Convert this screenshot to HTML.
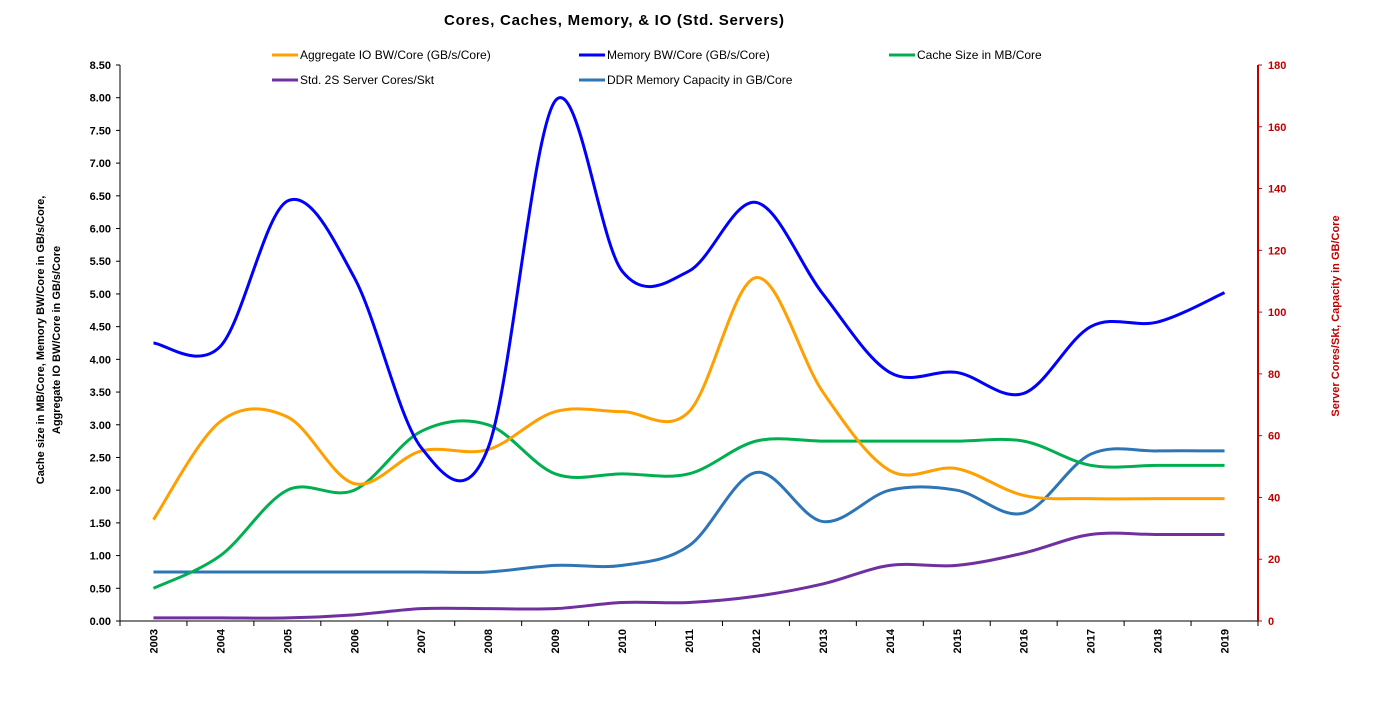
<!DOCTYPE html>
<html><head><meta charset="utf-8"><style>
body{margin:0;background:#fff;font-family:"Liberation Sans",Arial,sans-serif}
svg text{font-family:"Liberation Sans",Arial,sans-serif}
</style></head><body>
<svg id="chart" width="1378" height="703" xmlns="http://www.w3.org/2000/svg">
<text x="614" y="25" text-anchor="middle" font-size="15" font-weight="bold" textLength="340">Cores, Caches, Memory, &amp; IO   (Std. Servers)</text>
<g id="axes"></g>
<g id="series"></g>
<g id="legend"></g>
<text transform="translate(44,340) rotate(-90)" text-anchor="middle" font-size="11" font-weight="bold">Cache size in MB/Core, Memory BW/Core in GB/s/Core,</text>
<text transform="translate(60,340) rotate(-90)" text-anchor="middle" font-size="11" font-weight="bold">Aggregate IO BW/Core in GB/s/Core</text>
<text transform="translate(1339,316) rotate(-90)" text-anchor="middle" font-size="11" font-weight="bold" fill="#c00000">Server Cores/Skt,   Capacity in GB/Core</text>
</svg>
<script>
const years=[2003,2004,2005,2006,2007,2008,2009,2010,2011,2012,2013,2014,2015,2016,2017,2018,2019];
const ioBW=[1.55,3.05,3.12,2.1,2.6,2.62,3.2,3.2,3.2,5.25,3.5,2.3,2.33,1.92,1.87,1.87,1.87];
const memBW=[4.25,4.2,6.42,5.25,2.65,2.65,7.95,5.35,5.35,6.4,5.0,3.8,3.8,3.48,4.5,4.57,5.02];
const cacheMB=[0.5,1.0,2.0,2.0,2.9,3.0,2.25,2.25,2.25,2.75,2.75,2.75,2.75,2.75,2.38,2.38,2.38];
const coresSkt=[1,1,1,2,4,4,4,6,6,8,12,18,18,22,28,28,28];
const ddrGB=[0.75,0.75,0.75,0.75,0.75,0.75,0.85,0.85,1.15,2.27,1.52,2.0,2.0,1.65,2.55,2.6,2.6];
const leftTicks=[0,0.5,1,1.5,2,2.5,3,3.5,4,4.5,5,5.5,6,6.5,7,7.5,8,8.5];
const rightTicks=[0,20,40,60,80,100,120,140,160,180];
const NS="http://www.w3.org/2000/svg";
const X0=120,X1=1258,Y0=621,Y1=65;
const step=(X1-X0)/years.length;
const xs=i=>X0+step*(i+0.5);
const yl=v=>Y0-(v/8.5)*(Y0-Y1);
const yr=v=>Y0-(v/180)*(Y0-Y1);
function mk(tag,attrs,parent){const e=document.createElementNS(NS,tag);for(const k in attrs)e.setAttribute(k,attrs[k]);parent.appendChild(e);return e;}
const ax=document.getElementById('axes');
let l=mk('line',{x1:X0,y1:Y0,x2:X1,y2:Y0,stroke:'#000','stroke-width':1},ax);


l=mk('line',{x1:X0,y1:Y1,x2:X0,y2:Y0,stroke:'#000','stroke-width':1},ax);


l=mk('line',{x1:X1,y1:Y1,x2:X1,y2:Y0,stroke:'#c00000','stroke-width':2},ax);


leftTicks.forEach(v=>{
 mk('line',{x1:X0-4,x2:X0,y1:yl(v),y2:yl(v),stroke:'#000'},ax);
 const t=mk('text',{x:X0-9,y:yl(v)+4,'text-anchor':'end','font-size':11,'font-weight':'bold'},ax);
 t.textContent=v.toFixed(2);
 
 
});
rightTicks.forEach(v=>{
 mk('line',{x1:X1,x2:X1+4,y1:yr(v),y2:yr(v),stroke:'#c00000'},ax);
 const t=mk('text',{x:X1+10,y:yr(v)+4,'font-size':11,'font-weight':'bold',fill:'#c00000'},ax);
 t.textContent=v;
 
 
});
for(let i=0;i<=years.length;i++){mk('line',{x1:X0+step*i,x2:X0+step*i,y1:Y0,y2:Y0+5,stroke:'#000'},ax);}
years.forEach((y,i)=>{
 const t=mk('text',{transform:`translate(${xs(i)+4},${Y0+8}) rotate(-90)`,'text-anchor':'end','font-size':11,'font-weight':'bold'},ax);
 t.textContent=y;
 
 
});
function smooth(pts){
 let d=`M${pts[0][0]},${pts[0][1]}`;
 for(let i=0;i<pts.length-1;i++){
  const p0=pts[Math.max(0,i-1)],p1=pts[i],p2=pts[i+1],p3=pts[Math.min(pts.length-1,i+2)];
  const c1=[p1[0]+(p2[0]-p0[0])/6,p1[1]+(p2[1]-p0[1])/6];
  const c2=[p2[0]-(p3[0]-p1[0])/6,p2[1]-(p3[1]-p1[1])/6];
  d+=` C${c1[0]},${c1[1]} ${c2[0]},${c2[1]} ${p2[0]},${p2[1]}`;
 }
 return d;
}
const sg=document.getElementById('series');
function series(vals,scale,color,name){
 const p=mk('path',{d:smooth(vals.map((v,i)=>[xs(i),scale(v)])),fill:'none',stroke:color,'stroke-width':3},sg);
 
 
}
series(ddrGB,yl,'#2e75b6','ddr-capacity-line');
series(coresSkt,yr,'#7030a0','cores-per-socket-line');
series(cacheMB,yl,'#00b050','cache-size-line');
series(ioBW,yl,'#ffa000','io-bw-line');
series(memBW,yl,'#0000ff','memory-bw-line');
const lg=document.getElementById('legend');
[[272,55,'#ffa000','Aggregate IO BW/Core (GB/s/Core)'],[579,55,'#0000ff','Memory BW/Core (GB/s/Core)'],[889,55,'#00b050','Cache Size in MB/Core'],[272,80,'#7030a0','Std. 2S Server Cores/Skt'],[579,80,'#2e75b6','DDR Memory Capacity in GB/Core']].forEach(e=>{
 const g=mk('g',{},lg);
 
 
 mk('line',{x1:e[0],x2:e[0]+26,y1:e[1],y2:e[1],stroke:e[2],'stroke-width':3},g);
 const t=mk('text',{x:e[0]+28,y:e[1]+4,'font-size':12},g);
 t.textContent=e[3];
});
</script>
</body></html>
